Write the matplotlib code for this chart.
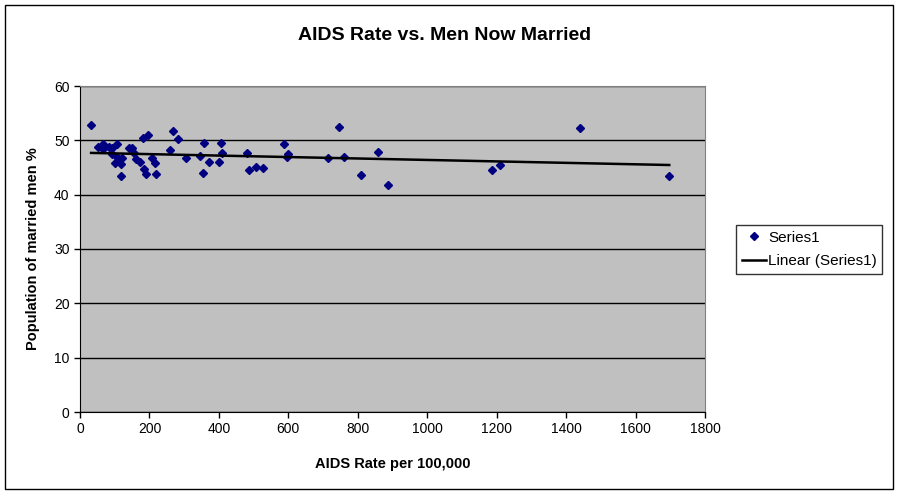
import numpy as np
import matplotlib.pyplot as plt

plt.rcParams['font.family'] = ['Liberation Sans', 'DejaVu Sans']

# tasa de SIDA por 100.000 y porcentaje de hombres casados
aids_rate = [32, 53, 65, 65, 84, 91, 91, 107, 101, 110, 107, 120, 118, 119,
             142, 149, 156, 160, 173, 182, 197, 185, 191, 207, 217, 220,
             269, 283, 259, 306, 347, 358, 372, 355, 401, 407, 410,
             482, 488, 508, 528, 588, 600, 597, 715, 747, 761, 810, 859, 888,
             1188, 1211, 1441, 1697]
married = [52.9, 48.8, 49.3, 48.4, 48.8, 48.5, 47.4, 49.3, 45.9, 46.4, 47.0, 46.8, 45.6, 43.4,
           48.6, 48.5, 47.7, 46.5, 46.1, 50.4, 50.9, 44.7, 43.8, 46.7, 45.8, 43.8,
           51.7, 50.2, 48.2, 46.7, 47.1, 49.5, 46.1, 43.9, 46.0, 49.5, 47.6,
           47.6, 44.5, 45.0, 44.9, 49.3, 47.4, 47.0, 46.7, 52.4, 46.9, 43.6, 47.8, 41.7,
           44.5, 45.4, 52.2, 43.4]

x = np.array(aids_rate)
y = np.array(married)

# recta de tendencia lineal
m, b = np.polyfit(x, y, 1)
xt = np.array([x.min(), x.max()])

fig = plt.figure(figsize=(8.98, 4.94), dpi=100)
fig.patches.append(plt.Rectangle((0.006, 0.01), 0.988, 0.98, transform=fig.transFigure,
                                 fill=False, edgecolor='black', linewidth=1))

ax = fig.add_axes([80/898, 82/494, 625/898, 326/494])
ax.set_facecolor('#C0C0C0')
ax.set_axisbelow(True)
ax.grid(axis='y', color='black', linewidth=1)

ax.plot(x, y, 'D', color='#000080', markersize=4.5, label='Series1', zorder=3)
ax.plot(xt, m*xt + b, color='black', linewidth=1.8, label='Linear (Series1)', zorder=4)

ax.set_xlim(0, 1800)
ax.set_ylim(0, 60)
ax.set_xticks(range(0, 1801, 200))
ax.set_yticks(range(0, 61, 10))
ax.tick_params(labelsize=10, length=4, width=1, color='black')
for s in ['top', 'right']:
    ax.spines[s].set_color('#808080')
for s in ['left', 'bottom']:
    ax.spines[s].set_color('black')

fig.text(445/898, 1 - 35/494, 'AIDS Rate vs. Men Now Married', fontsize=14,
         fontweight='bold', ha='center', va='center')
ax.set_xlabel('AIDS Rate per 100,000', fontsize=10.5, fontweight='bold', labelpad=15)
ax.set_ylabel('Population of married men %', fontsize=10.5, fontweight='bold', labelpad=10)

leg = fig.legend(loc='upper left', bbox_to_anchor=(736/898, 1 - 225/494), fontsize=11,
                 frameon=True, fancybox=False, edgecolor='black', handlelength=1.6,
                 borderpad=0.36, labelspacing=0.65, handletextpad=0.15, borderaxespad=0)
leg.get_frame().set_linewidth(1)

fig.savefig('out.png', dpi=100)
